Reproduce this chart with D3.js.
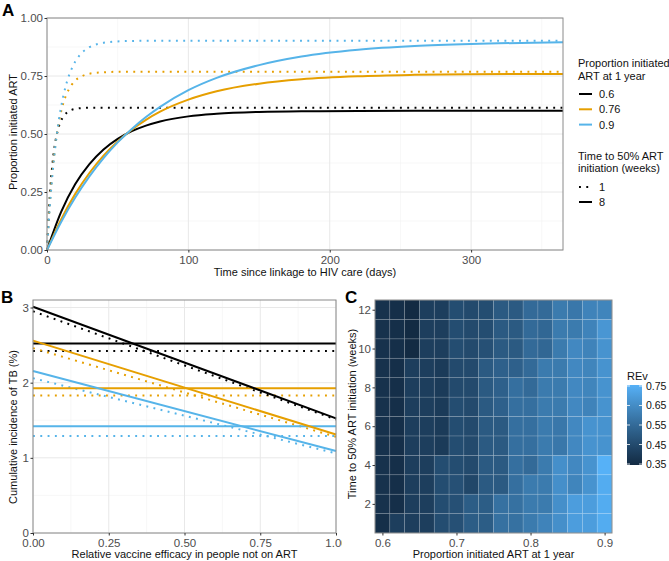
<!DOCTYPE html>
<html lang="en">
<head>
<meta charset="UTF-8" />
<title>ART initiation and TB vaccine impact</title>
<style>
  body { margin: 0; background: #fff; }
  svg text { font-family: "Liberation Sans", Arial, sans-serif; }
  .tick text { fill: #4d4d4d; font-size: 11.5px; }
  .tick line { stroke: #333; }
  .domain { display: none; }
  .atitle { font-size: 11px; fill: #111; }
  .plabel { font-size: 17px; font-weight: bold; fill: #000; }
  .leg { font-size: 11px; fill: #111; }
</style>
</head>
<body>
<script src="https://d3js.org/d3.v7.min.js"></script>
<script>
// ---- data ----
const artProps = ['0.6', '0.76', '0.9']
const artColors = ['#000000', '#E69F00', '#56B4E9']
const halfWeeks = ['1', '8']

// panel A: proportion initiated ART over time
const solidDays = [0, 10, 20, 30, 40, 50, 60, 70, 80, 100, 120, 150, 180, 220, 260, 300, 365]
const solidCurves = [
  [0, 0.164, 0.284, 0.370, 0.433, 0.479, 0.512, 0.536, 0.554, 0.576, 0.587, 0.595, 0.598, 0.599, 0.600, 0.600, 0.600],
  [0, 0.132, 0.242, 0.332, 0.407, 0.468, 0.519, 0.561, 0.596, 0.648, 0.684, 0.717, 0.736, 0.749, 0.755, 0.758, 0.759],
  [0, 0.121, 0.226, 0.317, 0.396, 0.464, 0.522, 0.573, 0.617, 0.689, 0.742, 0.797, 0.834, 0.863, 0.879, 0.888, 0.895]
]
const dottedDays = [0, 2, 4, 6, 8, 10, 12, 14, 17, 20, 25, 30, 40, 50, 60, 80, 120, 200, 300, 365]
const dottedCurves = [
  [0, 0.235, 0.380, 0.469, 0.524, 0.558, 0.579, 0.592, 0.603, 0.608, 0.612, 0.613, 0.613, 0.613, 0.613, 0.613, 0.613, 0.613, 0.613, 0.613],
  [0, 0.200, 0.347, 0.456, 0.537, 0.597, 0.642, 0.674, 0.708, 0.730, 0.750, 0.760, 0.766, 0.768, 0.768, 0.768, 0.768, 0.768, 0.768, 0.768],
  [0, 0.186, 0.334, 0.451, 0.544, 0.618, 0.676, 0.723, 0.775, 0.812, 0.852, 0.874, 0.893, 0.899, 0.901, 0.902, 0.902, 0.902, 0.902, 0.902]
]

// panel B: cumulative TB incidence (%) vs relative vaccine efficacy
const efficacy = [0, 1]
const tbFlatSolid = [2.52, 1.925, 1.42]
const tbFlatDotted = [2.42, 1.83, 1.29]
const tbSlopeSolid = [[3.01, 1.525], [2.56, 1.31], [2.155, 1.09]]
const tbSlopeDotted = [[2.95, 1.51], [2.46, 1.28], [2.06, 1.06]]

// panel C: REv heatmap
const propGrid = [0.60, 0.62, 0.64, 0.66, 0.68, 0.70, 0.72, 0.74, 0.76, 0.78, 0.80, 0.82, 0.84, 0.86, 0.88, 0.90]
const weekGrid = [1, 2, 3, 4, 5, 6, 7, 8, 9, 10, 11, 12]
const revByWeek = [
  [0.36, 0.41, 0.41, 0.41, 0.46, 0.47, 0.51, 0.51, 0.57, 0.57, 0.60, 0.625, 0.66, 0.70, 0.70, 0.74],
  [0.37, 0.36, 0.41, 0.41, 0.46, 0.47, 0.51, 0.51, 0.57, 0.57, 0.60, 0.60, 0.66, 0.70, 0.70, 0.74],
  [0.37, 0.36, 0.41, 0.41, 0.46, 0.47, 0.44, 0.50, 0.50, 0.565, 0.60, 0.60, 0.66, 0.63, 0.67, 0.74],
  [0.37, 0.36, 0.41, 0.41, 0.46, 0.46, 0.45, 0.50, 0.50, 0.565, 0.55, 0.60, 0.66, 0.64, 0.67, 0.755],
  [0.37, 0.36, 0.41, 0.41, 0.40, 0.46, 0.45, 0.50, 0.50, 0.565, 0.565, 0.60, 0.59, 0.64, 0.67, 0.67],
  [0.37, 0.36, 0.41, 0.41, 0.40, 0.46, 0.45, 0.50, 0.50, 0.565, 0.565, 0.60, 0.59, 0.64, 0.67, 0.67],
  [0.37, 0.36, 0.41, 0.41, 0.40, 0.46, 0.45, 0.50, 0.52, 0.565, 0.565, 0.60, 0.60, 0.64, 0.625, 0.67],
  [0.37, 0.36, 0.41, 0.41, 0.40, 0.45, 0.45, 0.50, 0.52, 0.565, 0.55, 0.60, 0.60, 0.64, 0.63, 0.67],
  [0.37, 0.36, 0.41, 0.41, 0.40, 0.45, 0.45, 0.50, 0.52, 0.52, 0.55, 0.60, 0.60, 0.64, 0.63, 0.67],
  [0.37, 0.36, 0.345, 0.41, 0.41, 0.46, 0.45, 0.47, 0.50, 0.50, 0.55, 0.54, 0.60, 0.64, 0.625, 0.67],
  [0.37, 0.36, 0.345, 0.41, 0.41, 0.46, 0.45, 0.46, 0.50, 0.50, 0.55, 0.54, 0.60, 0.60, 0.625, 0.68],
  [0.37, 0.36, 0.345, 0.41, 0.41, 0.46, 0.45, 0.46, 0.50, 0.50, 0.55, 0.55, 0.60, 0.59, 0.625, 0.63]
]
const revBreaks = [0.35, 0.45, 0.55, 0.65, 0.75]

// ---- drawing ----
const svg = d3.select('body').append('svg')
  .attr('width', 669)
  .attr('height', 561)

const dotted = '1.9 5.4'

// background grid helper (theme_bw look)
function drawGrid(g, x, y, xMajor, xMinor, yMajor, yMinor) {
  const [x0, x1] = x.range()
  const [y0, y1] = y.range()
  g.selectAll(null).data(xMinor).join('line')
    .attr('x1', d => x(d)).attr('x2', d => x(d)).attr('y1', y0).attr('y2', y1)
    .attr('stroke', '#f2f2f2').attr('stroke-width', 0.6)
  g.selectAll(null).data(yMinor).join('line')
    .attr('y1', d => y(d)).attr('y2', d => y(d)).attr('x1', x0).attr('x2', x1)
    .attr('stroke', '#f2f2f2').attr('stroke-width', 0.6)
  g.selectAll(null).data(xMajor).join('line')
    .attr('x1', d => x(d)).attr('x2', d => x(d)).attr('y1', y0).attr('y2', y1)
    .attr('stroke', '#e8e8e8').attr('stroke-width', 1)
  g.selectAll(null).data(yMajor).join('line')
    .attr('y1', d => y(d)).attr('y2', d => y(d)).attr('x1', x0).attr('x2', x1)
    .attr('stroke', '#e8e8e8').attr('stroke-width', 1)
}

function drawBorder(g, x, y) {
  const [x0, x1] = x.range()
  const [y0, y1] = y.range()
  g.append('rect')
    .attr('x', x0).attr('y', y1).attr('width', x1 - x0).attr('height', y0 - y1)
    .attr('fill', 'none').attr('stroke', '#8a8a8a').attr('stroke-width', 1)
}

// ================= A =================
const xA = d3.scaleLinear().domain([0, 365]).range([47, 563])
const yA = d3.scaleLinear().domain([0, 1]).range([250, 18])
const gA = svg.append('g')

drawGrid(gA, xA, yA, [0, 100, 200, 300], [50, 150, 250, 350],
  [0, 0.25, 0.5, 0.75, 1], [0.125, 0.375, 0.625, 0.875])

const lineA = (days) => d3.line()
  .x((d, i) => xA(days[i]))
  .y(d => yA(d))
  .curve(d3.curveMonotoneX)

dottedCurves.forEach((c, i) => {
  gA.append('path').attr('d', lineA(dottedDays)(c))
    .attr('fill', 'none').attr('stroke', artColors[i]).attr('stroke-width', 2)
    .attr('stroke-dasharray', dotted)
})
solidCurves.forEach((c, i) => {
  gA.append('path').attr('d', lineA(solidDays)(c))
    .attr('fill', 'none').attr('stroke', artColors[i]).attr('stroke-width', 2)
})
drawBorder(gA, xA, yA)

gA.append('g').attr('transform', 'translate(0,250)')
  .call(d3.axisBottom(xA).tickValues([0, 100, 200, 300]).tickSize(2.5).tickPadding(3))
gA.append('g').attr('transform', 'translate(47,0)')
  .call(d3.axisLeft(yA).tickValues([0, 0.25, 0.5, 0.75, 1]).tickFormat(d3.format('.2f')).tickSize(2.5).tickPadding(1.5))

gA.append('text').attr('class', 'atitle').attr('x', 305).attr('y', 276)
  .attr('text-anchor', 'middle').text('Time since linkage to HIV care (days)')
gA.append('text').attr('class', 'atitle').attr('text-anchor', 'middle')
  .attr('transform', 'translate(16.5,132) rotate(-90)').text('Proportion initiated ART')
svg.append('text').attr('class', 'plabel').attr('x', 2).attr('y', 16).text('A')

// legend A
const legA = svg.append('g').attr('transform', 'translate(578,0)')
legA.append('text').attr('class', 'leg').attr('y', 67).text('Proportion initiated')
legA.append('text').attr('class', 'leg').attr('y', 80).text('ART at 1 year')
artProps.forEach((p, i) => {
  const yy = 94 + i * 15.3
  legA.append('line').attr('x1', 1).attr('x2', 14).attr('y1', yy).attr('y2', yy)
    .attr('stroke', artColors[i]).attr('stroke-width', 2)
  legA.append('text').attr('class', 'leg').attr('x', 21).attr('y', yy + 4).text(p)
})
legA.append('text').attr('class', 'leg').attr('y', 160).text('Time to 50% ART')
legA.append('text').attr('class', 'leg').attr('y', 172).text('initiation (weeks)')
halfWeeks.forEach((w, i) => {
  const yy = 187 + i * 15
  legA.append('line').attr('x1', 1).attr('x2', 14).attr('y1', yy).attr('y2', yy)
    .attr('stroke', '#000').attr('stroke-width', 2)
    .attr('stroke-dasharray', i === 0 ? dotted : null)
  legA.append('text').attr('class', 'leg').attr('x', 21).attr('y', yy + 4).text(w)
})

// ================= B =================
const xB = d3.scaleLinear().domain([0, 1]).range([33, 336])
const yB = d3.scaleLinear().domain([0, 3.1]).range([533, 300])
const gB = svg.append('g')

drawGrid(gB, xB, yB, [0, 0.25, 0.5, 0.75, 1], [0.125, 0.375, 0.625, 0.875],
  [0, 1, 2, 3], [0.5, 1.5, 2.5])

const lineB = d3.line().x((d, i) => xB(efficacy[i])).y(d => yB(d))

function drawB(vals, i, dash) {
  gB.append('path').attr('d', lineB(vals))
    .attr('fill', 'none').attr('stroke', artColors[i]).attr('stroke-width', 2)
    .attr('stroke-dasharray', dash)
}
tbFlatDotted.forEach((v, i) => drawB([v, v], i, dotted))
tbSlopeDotted.forEach((v, i) => drawB(v, i, dotted))
tbFlatSolid.forEach((v, i) => drawB([v, v], i, null))
tbSlopeSolid.forEach((v, i) => drawB(v, i, null))
drawBorder(gB, xB, yB)

gB.append('g').attr('transform', 'translate(0,533)')
  .call(d3.axisBottom(xB).tickValues([0, 0.25, 0.5, 0.75, 1]).tickFormat(d3.format('.2f')).tickSize(2.5).tickPadding(3))
gB.append('g').attr('transform', 'translate(33,0)')
  .call(d3.axisLeft(yB).tickValues([0, 1, 2, 3]).tickFormat(d3.format('d')).tickSize(2.5).tickPadding(1.5))

gB.append('text').attr('class', 'atitle').attr('x', 184.5).attr('y', 558)
  .attr('text-anchor', 'middle').text('Relative vaccine efficacy in people not on ART')
gB.append('text').attr('class', 'atitle').attr('text-anchor', 'middle')
  .attr('transform', 'translate(16.5,427) rotate(-90)').text('Cumulative incidence of TB (%)')
svg.append('text').attr('class', 'plabel').attr('x', 1).attr('y', 303).text('B')

// ================= C =================
// panel C background sits over the right edge of panel B
svg.append('rect').attr('x', 342).attr('y', 283).attr('width', 327).attr('height', 278).attr('fill', '#fff')

const xC = d3.scaleLinear().domain([0.59, 0.91]).range([375, 612])
const yC = d3.scaleLinear().domain([0.5, 12.5]).range([533, 300])
const color = d3.scaleLinear().domain([0.345, 0.755]).range(['#132B43', '#56B1F7'])
  .interpolate(d3.interpolateLab)
const gC = svg.append('g')

const cells = []
weekGrid.forEach((w, r) => propGrid.forEach((p, c) => cells.push({ w, p, v: revByWeek[r][c] })))

gC.selectAll('rect.cell').data(cells).join('rect')
  .attr('class', 'cell')
  .attr('x', d => xC(d.p - 0.01))
  .attr('y', d => yC(d.w + 0.5))
  .attr('width', d => xC(d.p + 0.01) - xC(d.p - 0.01))
  .attr('height', d => yC(d.w - 0.5) - yC(d.w + 0.5))
  .attr('fill', d => color(d.v))
  .attr('stroke', 'rgba(255,255,255,0.18)')
  .attr('stroke-width', 0.7)
drawBorder(gC, xC, yC)

gC.append('g').attr('transform', 'translate(0,533)')
  .call(d3.axisBottom(xC).tickValues([0.6, 0.7, 0.8, 0.9]).tickFormat(d3.format('.1f')).tickSize(2.5).tickPadding(3))
gC.append('g').attr('transform', 'translate(375,0)')
  .call(d3.axisLeft(yC).tickValues([2, 4, 6, 8, 10, 12]).tickSize(2.5).tickPadding(1.5))

gC.append('text').attr('class', 'atitle').attr('x', 493.5).attr('y', 558)
  .attr('text-anchor', 'middle').text('Proportion initiated ART at 1 year')
gC.append('text').attr('class', 'atitle').attr('text-anchor', 'middle')
  .attr('transform', 'translate(356,414) rotate(-90)').text('Time to 50% ART initiation (weeks)')
svg.append('text').attr('class', 'plabel').attr('x', 345).attr('y', 303).text('C')

// colour bar
const barY = d3.scaleLinear().domain([0.345, 0.755]).range([465, 385])
const grad = svg.append('defs').append('linearGradient').attr('id', 'revGrad')
  .attr('x1', 0).attr('y1', 1).attr('x2', 0).attr('y2', 0)
d3.range(0, 1.0001, 0.1).forEach(t => {
  grad.append('stop').attr('offset', t).attr('stop-color', color(0.345 + t * 0.41))
})
const legC = svg.append('g')
legC.append('text').attr('class', 'leg').attr('x', 627).attr('y', 380).text('REv')
legC.append('rect').attr('x', 627).attr('y', 385).attr('width', 15).attr('height', 80)
  .attr('fill', 'url(#revGrad)')
revBreaks.forEach(b => {
  const yy = barY(b)
  legC.append('line').attr('x1', 627).attr('x2', 630).attr('y1', yy).attr('y2', yy)
    .attr('stroke', '#fff').attr('stroke-width', 0.8)
  legC.append('line').attr('x1', 639).attr('x2', 642).attr('y1', yy).attr('y2', yy)
    .attr('stroke', '#fff').attr('stroke-width', 0.8)
  legC.append('text').attr('class', 'leg').attr('x', 646).attr('y', yy + 4).attr('fill', '#4d4d4d')
    .style('font-size', '10.5px').text(b.toFixed(2))
})
</script>
</body>
</html>
